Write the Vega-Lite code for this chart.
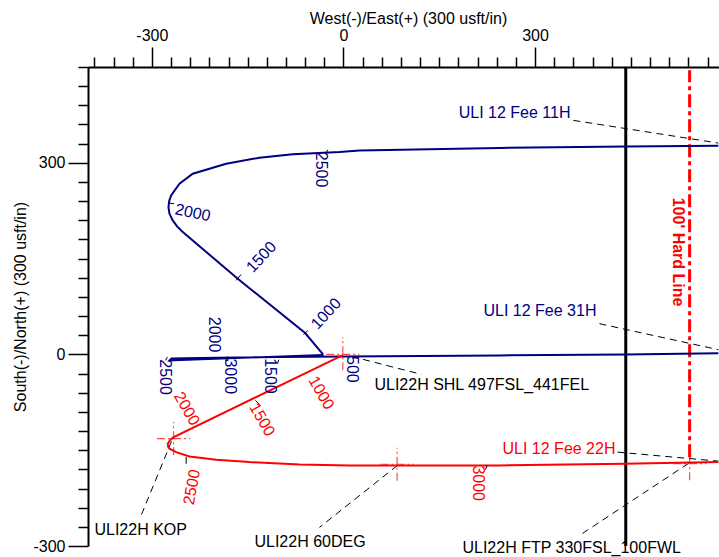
{
  "$schema": "https://vega.github.io/schema/vega-lite/v6.json",
  "width": 631,
  "height": 479,
  "autosize": {"type": "none"},
  "padding": {"left": 88, "top": 67, "right": 0, "bottom": 11},
  "config": {
    "view": {"stroke": null},
    "font": "Liberation Sans",
    "text": {"font": "Liberation Sans", "fontSize": 16},
    "axis": {"labelFont": "Liberation Sans", "titleFont": "Liberation Sans"}
  },
  "datasets": {
    "wells": [
      {"well": "11H", "i": 0, "x": -32, "y": 0},
      {"well": "11H", "i": 1, "x": -60.0, "y": 33.4},
      {"well": "11H", "i": 2, "x": -165.5, "y": 118.5},
      {"well": "11H", "i": 3, "x": -251.6, "y": 191.5},
      {"well": "11H", "i": 4, "x": -260.5, "y": 200.5},
      {"well": "11H", "i": 5, "x": -267.3, "y": 209.8},
      {"well": "11H", "i": 6, "x": -272.5, "y": 220.5},
      {"well": "11H", "i": 7, "x": -274.0, "y": 230.6},
      {"well": "11H", "i": 8, "x": -272.8, "y": 240.5},
      {"well": "11H", "i": 9, "x": -269.8, "y": 249.0},
      {"well": "11H", "i": 10, "x": -256.8, "y": 267.3},
      {"well": "11H", "i": 11, "x": -236.0, "y": 282.9},
      {"well": "11H", "i": 12, "x": -183.7, "y": 298.6},
      {"well": "11H", "i": 13, "x": -131.5, "y": 308.0},
      {"well": "11H", "i": 14, "x": -79.4, "y": 313.2},
      {"well": "11H", "i": 15, "x": -6.3, "y": 316.8},
      {"well": "11H", "i": 16, "x": 25.1, "y": 319.4},
      {"well": "11H", "i": 17, "x": 244.2, "y": 323.3},
      {"well": "11H", "i": 18, "x": 443.1, "y": 325.7},
      {"well": "11H", "i": 19, "x": 587, "y": 326.8},
      {"well": "31H", "i": 0, "x": -31.3, "y": -0.8},
      {"well": "31H", "i": 1, "x": -272.4, "y": -9.4},
      {"well": "31H", "i": 2, "x": -269.3, "y": -6.3},
      {"well": "31H", "i": 3, "x": -225.5, "y": -5.5},
      {"well": "31H", "i": 4, "x": 0, "y": -3.1},
      {"well": "31H", "i": 5, "x": 244.2, "y": -1.6},
      {"well": "31H", "i": 6, "x": 441.5, "y": 0},
      {"well": "31H", "i": 7, "x": 587, "y": 1.9},
      {"well": "22H", "i": 0, "x": -1, "y": -1},
      {"well": "22H", "i": 1, "x": -267.3, "y": -130.4},
      {"well": "22H", "i": 2, "x": -272.0, "y": -135.0},
      {"well": "22H", "i": 3, "x": -275.1, "y": -139.8},
      {"well": "22H", "i": 4, "x": -274.5, "y": -144.5},
      {"well": "22H", "i": 5, "x": -272.4, "y": -147.6},
      {"well": "22H", "i": 6, "x": -262.0, "y": -153.0},
      {"well": "22H", "i": 7, "x": -241.1, "y": -159.7},
      {"well": "22H", "i": 8, "x": -199.3, "y": -164.9},
      {"well": "22H", "i": 9, "x": -147.2, "y": -168.6},
      {"well": "22H", "i": 10, "x": -68.9, "y": -172.2},
      {"well": "22H", "i": 11, "x": 9.4, "y": -173.8},
      {"well": "22H", "i": 12, "x": 244.3, "y": -173.8},
      {"well": "22H", "i": 13, "x": 440, "y": -171.1},
      {"well": "22H", "i": 14, "x": 587, "y": -168.6}
    ],
    "lease": [{"x": 442, "y": -300, "y2": 450}],
    "hard": [{"x": 542, "y": -161, "y2": 445}],
    "crosses": [
      {"x": -1, "x2": -1, "y": -25, "y2": 27},
      {"x": -27, "x2": 25, "y": 0, "y2": 0},
      {"x": -266, "x2": -266, "y": -158, "y2": -106},
      {"x": -292, "x2": -240, "y": -132, "y2": -132},
      {"x": 84, "x2": 84, "y": -198, "y2": -146},
      {"x": 58, "x2": 110, "y": -172, "y2": -172},
      {"x": 542, "x2": 542, "y": -197, "y2": -145},
      {"x": 516, "x2": 568, "y": -171, "y2": -171}
    ],
    "leaders": [
      {"x": 360.1, "y": 366.4, "x2": 587, "y2": 330.9},
      {"x": 400.8, "y": 48.1, "x2": 587, "y2": 7.4},
      {"x": 429, "y": -153, "x2": 587, "y2": -167.1},
      {"x": 12.5, "y": -3.1, "x2": 122.1, "y2": -31.3},
      {"x": -269.3, "y": -136.2, "x2": -316.8, "y2": -252.1},
      {"x": 84.6, "y": -173.8, "x2": -37.6, "y2": -270.9},
      {"x": 540.2, "y": -170.7, "x2": 369.5, "y2": -283.4}
    ],
    "mdticks": [
      {"x": -62.6, "y": 30.8, "x2": -55.8, "y2": 37.6},
      {"x": -168, "y": 115.9, "x2": -160.2, "y2": 125.3},
      {"x": -272.4, "y": 236.9, "x2": -265.2, "y2": 236.0},
      {"x": -28.2, "y": 314.2, "x2": -24.6, "y2": 320.3},
      {"x": -181.2, "y": -3.1, "x2": -184.8, "y2": -10.5},
      {"x": -101.3, "y": -8.3, "x2": -103.3, "y2": -14.6},
      {"x": -275.6, "y": -3.9, "x2": -278.7, "y2": -9.4},
      {"x": -137.8, "y": -72, "x2": -131.5, "y2": -78.7},
      {"x": -246.3, "y": -160.8, "x2": -246.3, "y2": -171.2},
      {"x": 225, "y": -173.8, "x2": 222.3, "y2": -180.5}
    ],
    "labels": [
      {"well": "11H", "text": "ULI 12 Fee 11H", "x": 355.4, "y": 377.4, "side": "right"},
      {"well": "31H", "text": "ULI 12 Fee 31H", "x": 396.1, "y": 67.3, "side": "right"},
      {"well": "22H", "text": "ULI 12 Fee 22H", "x": 425.9, "y": -148.7, "side": "right"},
      {"well": "note", "text": "ULI22H SHL 497FSL_441FEL", "x": 48.5, "y": -48.5, "side": "left"},
      {"well": "note", "text": "ULI22H KOP", "x": -389.9, "y": -275.6, "side": "left"},
      {"well": "note", "text": "ULI22H 60DEG", "x": -139.4, "y": -293.6, "side": "left"},
      {"well": "note", "text": "ULI22H FTP 330FSL_100FWL", "x": 186.3, "y": -303.8, "side": "left"}
    ],
    "hardlabel": [{"well": "22H", "text": "100' Hard Line", "x": 523.8, "y": 160.2}],
    "md": [
      {"well": "11H", "seg": "tan11", "label": "1000", "x": -27.1, "y": 63.7},
      {"well": "11H", "seg": "tan11", "label": "1500", "x": -128.4, "y": 152.4},
      {"well": "11H", "seg": "bend11", "label": "2000", "x": -236, "y": 221.6},
      {"well": "11H", "seg": "lat", "label": "2500", "x": -35.7, "y": 289.4},
      {"well": "31H", "seg": "lat", "label": "2000", "x": -202, "y": 31},
      {"well": "31H", "seg": "lat", "label": "2500", "x": -279, "y": -35.5},
      {"well": "31H", "seg": "lat", "label": "3000", "x": -177.2, "y": -34.2},
      {"well": "31H", "seg": "lat", "label": "1500", "x": -114.6, "y": -33.7},
      {"well": "31H", "seg": "lat", "label": "500", "x": 13.3, "y": -23.5},
      {"well": "22H", "seg": "tan22", "label": "1000", "x": -34.9, "y": -60.3},
      {"well": "22H", "seg": "tan22", "label": "1500", "x": -127.6, "y": -102.1},
      {"well": "22H", "seg": "tan22", "label": "2000", "x": -245.5, "y": -85},
      {"well": "22H", "seg": "bend22", "label": "2500", "x": -237.2, "y": -207.8},
      {"well": "22H", "seg": "lat", "label": "3000", "x": 210.3, "y": -201.7}
    ]
  },
  "encoding": {
    "x": {
      "field": "x", "type": "quantitative",
      "scale": {"domain": [-400, 588], "nice": false, "zero": false},
      "axis": {
        "orient": "top",
        "values": [-390,-360,-330,-300,-270,-240,-210,-180,-150,-120,-90,-60,-30,0,30,60,90,120,150,180,210,240,270,300,330,360,390,420,450,480,510,540,570],
        "tickSize": {"condition": {"test": "datum.value % 300 === 0", "value": 20}, "value": 10},
        "labelExpr": "datum.value % 300 === 0 ? '' + datum.value : ''",
        "labelFontSize": 16, "labelColor": "#000", "labelPadding": 4,
        "labelFlush": false, "labelOverlap": false, "labelBound": false,
        "domainColor": "#000", "domainWidth": 2,
        "tickColor": "#000", "tickWidth": 1.5, "grid": false,
        "title": "West(-)/East(+)  (300 usft/in)",
        "titleFontSize": 16, "titleFontWeight": "normal", "titleColor": "#000",
        "titleX": 320, "titleY": -49, "titleBaseline": "middle", "titleAlign": "center"
      }
    },
    "y": {
      "field": "y", "type": "quantitative",
      "scale": {"domain": [-300, 450], "nice": false, "zero": false},
      "axis": {
        "orient": "left",
        "values": [-300,-270,-240,-210,-180,-150,-120,-90,-60,-30,0,30,60,90,120,150,180,210,240,270,300,330,360,390,420,450],
        "tickSize": {"condition": {"test": "datum.value % 300 === 0", "value": 20}, "value": 10},
        "labelExpr": "datum.value % 300 === 0 ? '' + datum.value : ''",
        "labelFontSize": 16, "labelColor": "#000", "labelPadding": 3,
        "labelFlush": false, "labelOverlap": false, "labelBound": false,
        "domainColor": "#000", "domainWidth": 2,
        "tickColor": "#000", "tickWidth": 1.5, "grid": false,
        "title": "South(-)/North(+)  (300 usft/in)",
        "titleFontSize": 16, "titleFontWeight": "normal", "titleColor": "#000",
        "titleX": -67.5, "titleY": 239.5, "titleAngle": -90, "titleBaseline": "middle", "titleAlign": "center"
      }
    }
  },
  "layer": [
    {
      "data": {"name": "lease"},
      "mark": {"type": "rule", "color": "#000", "strokeWidth": 3},
      "encoding": {"y2": {"field": "y2"}}
    },
    {
      "data": {"name": "hard"},
      "mark": {"type": "rule", "color": "#ff0000", "strokeWidth": 3, "strokeDash": [13, 4, 4, 4]},
      "encoding": {"y2": {"field": "y2"}}
    },
    {
      "data": {"name": "crosses"},
      "mark": {"type": "rule", "color": "#ff0000", "strokeWidth": 1.2, "opacity": 0.7, "strokeDash": [8, 3, 2, 3]},
      "encoding": {"x2": {"field": "x2"}, "y2": {"field": "y2"}}
    },
    {
      "data": {"name": "leaders"},
      "mark": {"type": "rule", "color": "#000", "strokeWidth": 1, "strokeDash": [7, 5]},
      "encoding": {"x2": {"field": "x2"}, "y2": {"field": "y2"}}
    },
    {
      "data": {"name": "wells"},
      "mark": {"type": "line", "strokeWidth": 2, "interpolate": "linear", "clip": true},
      "encoding": {
        "color": {"field": "well", "type": "nominal", "legend": null,
          "scale": {"domain": ["11H", "31H", "22H", "note"], "range": ["#000080", "#000080", "#ff0000", "#000000"]}},
        "detail": {"field": "well"},
        "order": {"field": "i", "type": "quantitative"}
      }
    },
    {
      "data": {"name": "mdticks"},
      "mark": {"type": "rule", "color": "#000", "strokeWidth": 1},
      "encoding": {"x2": {"field": "x2"}, "y2": {"field": "y2"}}
    },
    {
      "data": {"name": "labels"},
      "transform": [{"filter": "datum.side === 'right'"}],
      "mark": {"type": "text", "align": "right", "baseline": "middle", "fontSize": 16},
      "encoding": {
        "text": {"field": "text"},
        "color": {"field": "well", "type": "nominal", "legend": null,
          "scale": {"domain": ["11H", "31H", "22H", "note"], "range": ["#000080", "#000080", "#ff0000", "#000000"]}}
      }
    },
    {
      "data": {"name": "labels"},
      "transform": [{"filter": "datum.side === 'left'"}],
      "mark": {"type": "text", "align": "left", "baseline": "middle", "fontSize": 16},
      "encoding": {
        "text": {"field": "text"},
        "color": {"field": "well", "type": "nominal", "legend": null,
          "scale": {"domain": ["11H", "31H", "22H", "note"], "range": ["#000080", "#000080", "#ff0000", "#000000"]}}
      }
    },
    {
      "data": {"name": "hardlabel"},
      "mark": {"type": "text", "align": "center", "baseline": "middle", "fontSize": 16, "fontWeight": "bold", "angle": 90},
      "encoding": {
        "text": {"field": "text"},
        "color": {"field": "well", "type": "nominal", "legend": null,
          "scale": {"domain": ["11H", "31H", "22H", "note"], "range": ["#000080", "#000080", "#ff0000", "#000000"]}}
      }
    },
    {
      "data": {"name": "md"},
      "transform": [{"filter": "datum.seg === 'lat'"}],
      "mark": {"type": "text", "align": "center", "baseline": "middle", "fontSize": 16, "angle": 90},
      "encoding": {
        "text": {"field": "label"},
        "color": {"field": "well", "type": "nominal", "legend": null,
          "scale": {"domain": ["11H", "31H", "22H", "note"], "range": ["#000080", "#000080", "#ff0000", "#000000"]}}
      }
    },
    {
      "data": {"name": "md"},
      "transform": [{"filter": "datum.seg === 'tan11'"}],
      "mark": {"type": "text", "align": "center", "baseline": "middle", "fontSize": 16, "angle": -47},
      "encoding": {
        "text": {"field": "label"},
        "color": {"field": "well", "type": "nominal", "legend": null,
          "scale": {"domain": ["11H", "31H", "22H", "note"], "range": ["#000080", "#000080", "#ff0000", "#000000"]}}
      }
    },
    {
      "data": {"name": "md"},
      "transform": [{"filter": "datum.seg === 'bend11'"}],
      "mark": {"type": "text", "align": "center", "baseline": "middle", "fontSize": 16, "angle": 12},
      "encoding": {
        "text": {"field": "label"},
        "color": {"field": "well", "type": "nominal", "legend": null,
          "scale": {"domain": ["11H", "31H", "22H", "note"], "range": ["#000080", "#000080", "#ff0000", "#000000"]}}
      }
    },
    {
      "data": {"name": "md"},
      "transform": [{"filter": "datum.seg === 'tan22'"}],
      "mark": {"type": "text", "align": "center", "baseline": "middle", "fontSize": 16, "angle": 60},
      "encoding": {
        "text": {"field": "label"},
        "color": {"field": "well", "type": "nominal", "legend": null,
          "scale": {"domain": ["11H", "31H", "22H", "note"], "range": ["#000080", "#000080", "#ff0000", "#000000"]}}
      }
    },
    {
      "data": {"name": "md"},
      "transform": [{"filter": "datum.seg === 'bend22'"}],
      "mark": {"type": "text", "align": "center", "baseline": "middle", "fontSize": 16, "angle": -80},
      "encoding": {
        "text": {"field": "label"},
        "color": {"field": "well", "type": "nominal", "legend": null,
          "scale": {"domain": ["11H", "31H", "22H", "note"], "range": ["#000080", "#000080", "#ff0000", "#000000"]}}
      }
    }
  ]
}
